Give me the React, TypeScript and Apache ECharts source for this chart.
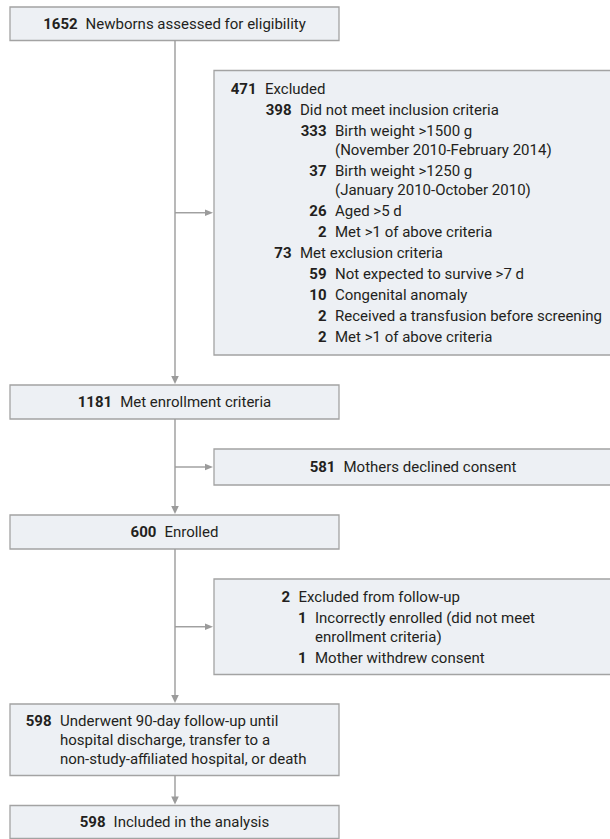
import React, { useEffect, useRef } from "react";
import * as echarts from "echarts";

// ---- data ----
const mainCounts = [1652, 1181, 600, 598, 598];
const mainLabels: string[][] = [
  ["Newborns assessed for eligibility"],
  ["Met enrollment criteria"],
  ["Enrolled"],
  [
    "Underwent 90-day follow-up until",
    "hospital discharge, transfer to a",
    "non-study-affiliated hospital, or death",
  ],
  ["Included in the analysis"],
];

const excludedCounts = [471, 398, 333, 37, 26, 2, 73, 59, 10, 2, 2];
const excludedLevels = [0, 1, 2, 2, 2, 2, 1, 2, 2, 2, 2];
const excludedLabels: string[][] = [
  ["Excluded"],
  ["Did not meet inclusion criteria"],
  ["Birth weight >1500 g", "(November 2010-February 2014)"],
  ["Birth weight >1250 g", "(January 2010-October 2010)"],
  ["Aged >5 d"],
  ["Met >1 of above criteria"],
  ["Met exclusion criteria"],
  ["Not expected to survive >7 d"],
  ["Congenital anomaly"],
  ["Received a transfusion before screening"],
  ["Met >1 of above criteria"],
];

const declinedCounts = [581];
const declinedLabels = ["Mothers declined consent"];

const followupCounts = [2, 1, 1];
const followupLevels = [0, 1, 1];
const followupLabels: string[][] = [
  ["Excluded from follow-up"],
  ["Incorrectly enrolled (did not meet", "enrollment criteria)"],
  ["Mother withdrew consent"],
];

// ---- styles ----
const FONT = "Roboto";
const FS = 15;
const TEXT = "#231f20";
const FILL = "#edf0f4";
const BORDER = "#a3a3a3";
const LINE = "#9b9b9b";

function rect(x1: number, y1: number, x2: number, y2: number) {
  return {
    type: "rect",
    shape: { x: x1, y: y1, width: x2 - x1, height: y2 - y1 },
    style: { fill: FILL, stroke: BORDER, lineWidth: 1.3 },
    z: 1,
  };
}

function txt(x: number, y: number, s: string, align: string, bold: boolean) {
  return {
    type: "text",
    x,
    y,
    z: 5,
    style: {
      text: s,
      fill: TEXT,
      fontFamily: FONT,
      fontSize: FS,
      fontWeight: bold ? "bold" : "normal",
      align,
      textAlign: align,
      verticalAlign: "middle",
      textVerticalAlign: "middle",
    },
  };
}

function centered(cx: number, cy: number, count: number, label: string) {
  return {
    type: "text",
    x: cx,
    y: cy,
    z: 5,
    style: {
      text: `{n|${count}}{s| }{t|${label}}`,
      fill: TEXT,
      fontFamily: FONT,
      fontSize: FS,
      align: "center",
      textAlign: "center",
      verticalAlign: "middle",
      textVerticalAlign: "middle",
      rich: {
        n: { fontWeight: "bold", fontFamily: FONT, fontSize: FS, fill: TEXT },
        s: { width: 8, fontFamily: FONT, fontSize: FS },
        t: { fontFamily: FONT, fontSize: FS, fill: TEXT },
      },
    },
  };
}

function listText(
  top: number,
  counts: number[],
  levels: number[],
  labels: string[][],
  labelX: number[],
  firstOffset: number,
  itemPitch: number,
  wrapPitch: number
) {
  const els: any[] = [];
  let y = top + firstOffset;
  counts.forEach((c, i) => {
    const lx = labelX[levels[i]];
    els.push(txt(lx - 8.5, y, String(c), "right", true));
    labels[i].forEach((ln, j) => {
      if (j > 0) y += wrapPitch;
      els.push(txt(lx, y, ln, "left", false));
    });
    y += itemPitch;
  });
  return els;
}

function vline(x: number, y1: number, y2: number, arrow: boolean) {
  const els: any[] = [
    {
      type: "line",
      shape: { x1: x, y1, x2: x, y2: arrow ? y2 - 6 : y2 },
      style: { stroke: LINE, lineWidth: 1.4 },
      z: 2,
    },
  ];
  if (arrow) {
    els.push({
      type: "polygon",
      shape: { points: [[x, y2], [x - 3.8, y2 - 8], [x + 3.8, y2 - 8]] },
      style: { fill: LINE },
      z: 2,
    });
  }
  return els;
}

function harrow(x1: number, x2: number, y: number) {
  return [
    {
      type: "line",
      shape: { x1, y1: y, x2: x2 - 6, y2: y },
      style: { stroke: LINE, lineWidth: 1.4 },
      z: 2,
    },
    {
      type: "polygon",
      shape: { points: [[x2, y], [x2 - 8, y - 3.3], [x2 - 8, y + 3.3]] },
      style: { fill: LINE },
      z: 2,
    },
  ];
}

export default function App() {
  const ref = useRef<HTMLDivElement>(null);
  useEffect(() => {
    if (!ref.current) return;
    const chart = echarts.init(ref.current, undefined, { renderer: "svg" });

    const mainX1 = 10;
    const mainX2 = 339;
    const cx = 175;
    const mainBoxes = [
      [7, 40.5],
      [385, 419],
      [515, 549],
      [704, 775.5],
      [805.5, 838.5],
    ];
    const sideX1 = 214;
    const sideX2 = 614;
    const excBox = [70.5, 355];
    const decBox = [449, 485];
    const fuBox = [579, 674.5];

    const els: any[] = [];
    // boxes
    mainBoxes.forEach((b) => els.push(rect(mainX1, b[0], mainX2, b[1])));
    els.push(rect(sideX1, excBox[0], sideX2, excBox[1]));
    els.push(rect(sideX1, decBox[0], sideX2, decBox[1]));
    els.push(rect(sideX1, fuBox[0], sideX2, fuBox[1]));

    // connectors
    for (let i = 0; i < mainBoxes.length - 1; i++) {
      els.push(...vline(cx, mainBoxes[i][1], mainBoxes[i + 1][0] - 1, true));
    }
    els.push(...harrow(cx, sideX1 - 1, (excBox[0] + excBox[1]) / 2));
    els.push(...harrow(cx, sideX1 - 1, (decBox[0] + decBox[1]) / 2));
    els.push(...harrow(cx, sideX1 - 1, (fuBox[0] + fuBox[1]) / 2));

    // main box texts
    [0, 1, 2, 4].forEach((i) => {
      const b = mainBoxes[i];
      els.push(centered((mainX1 + mainX2) / 2, (b[0] + b[1]) / 2, mainCounts[i], mainLabels[i][0]));
    });
    els.push(
      ...listText(mainBoxes[3][0], [mainCounts[3]], [0], [mainLabels[3]], [60], 17, 21, 19)
    );

    // side boxes
    els.push(
      ...listText(excBox[0], excludedCounts, excludedLevels, excludedLabels, [265, 300, 335], 18.5, 21, 19)
    );
    els.push(centered((sideX1 + 612) / 2, (decBox[0] + decBox[1]) / 2, declinedCounts[0], declinedLabels[0]));
    els.push(
      ...listText(fuBox[0], followupCounts, followupLevels, followupLabels, [298.5, 315], 18, 21, 19)
    );

    chart.setOption({
      animation: false,
      graphic: { elements: els },
    });
    return () => chart.dispose();
  }, []);
  return (
    <div
      ref={ref}
      style={{ position: "absolute", left: 0, top: 0, width: 610, height: 839, background: "#fff" }}
    />
  );
}
